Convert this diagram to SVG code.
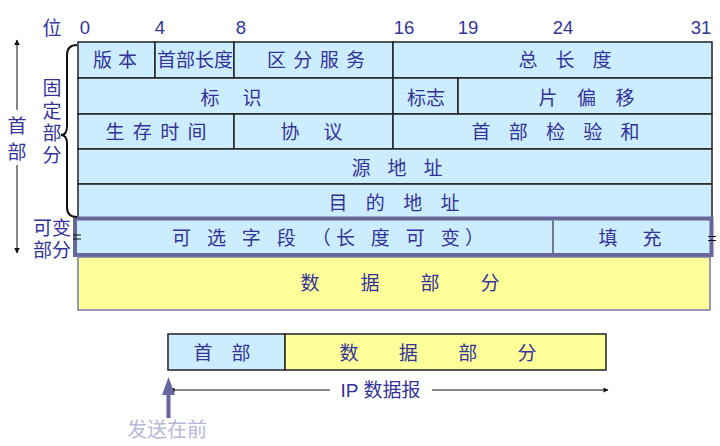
<svg xmlns="http://www.w3.org/2000/svg" width="720" height="446" viewBox="0 0 720 446">
<style>
.t{font-family:"Liberation Sans","Noto Sans CJK SC",sans-serif;font-size:19px;fill:#333399;text-anchor:middle;dominant-baseline:central}
.num{font-family:"Liberation Sans",Arial,sans-serif;font-size:18.5px;fill:#333399;text-anchor:middle}
.c{fill:#ccecff;stroke:#222;stroke-width:1.5}
.y{fill:#ffff99;stroke:#7777aa;stroke-width:1.5}
.ln{stroke:#111;stroke-width:2;fill:none}
.thin{stroke:#111;stroke-width:1;fill:none}
</style>
<defs>
<marker id="ah" viewBox="0 0 10 10" refX="9" refY="5" markerWidth="6" markerHeight="10" markerUnits="userSpaceOnUse" orient="auto"><path d="M0,0 L10,5 L0,10 z" fill="#111"/></marker>
<marker id="ahs" viewBox="0 0 10 10" refX="9" refY="5" markerWidth="7" markerHeight="5" markerUnits="userSpaceOnUse" orient="auto"><path d="M0,0 L10,5 L0,10 z" fill="#111"/></marker>
</defs>

<g id="bits">
<text x="52" y="28" class="t">位</text>
<text x="85" y="34" class="num">0</text>
<text x="160" y="34" class="num">4</text>
<text x="241" y="34" class="num">8</text>
<text x="404" y="34" class="num">16</text>
<text x="468" y="34" class="num">19</text>
<text x="563" y="34" class="num">24</text>
<text x="701" y="34" class="num">31</text>
</g>

<g id="f-version"><rect class="c" x="78" y="42" width="77" height="36"/><text class="t" x="115" y="60" textLength="44" lengthAdjust="spacing">版 本</text></g>
<g id="f-ihl"><rect class="c" x="155" y="42" width="79" height="36"/><text class="t" x="195" y="60" textLength="76" lengthAdjust="spacing">首部长度</text></g>
<g id="f-ds"><rect class="c" x="234" y="42" width="159" height="36"/><text class="t" x="316" y="60" textLength="98" lengthAdjust="spacing">区 分 服 务</text></g>
<g id="f-total"><rect class="c" x="393" y="42" width="319" height="36"/><text class="t" x="565" y="60" textLength="93" lengthAdjust="spacing">总 长 度</text></g>

<g id="f-id"><rect class="c" x="78" y="78" width="315" height="36"/><text class="t" x="231" y="98" textLength="61" lengthAdjust="spacing">标 识</text></g>
<g id="f-flags"><rect class="c" x="393" y="78" width="65" height="36"/><text class="t" x="426" y="98" textLength="38" lengthAdjust="spacing">标志</text></g>
<g id="f-offset"><rect class="c" x="458" y="78" width="254" height="36"/><text class="t" x="586.5" y="98" textLength="96" lengthAdjust="spacing">片 偏 移</text></g>

<g id="f-ttl"><rect class="c" x="78" y="114" width="156" height="35"/><text class="t" x="156" y="132" textLength="101" lengthAdjust="spacing">生 存 时 间</text></g>
<g id="f-proto"><rect class="c" x="234" y="114" width="159" height="35"/><text class="t" x="311.5" y="132" textLength="62" lengthAdjust="spacing">协 议</text></g>
<g id="f-checksum"><rect class="c" x="393" y="114" width="319" height="35"/><text class="t" x="555.5" y="132" textLength="168" lengthAdjust="spacing">首 部 检 验 和</text></g>

<g id="f-src"><rect class="c" x="78" y="149" width="634" height="35"/><text class="t" x="397" y="168" textLength="91" lengthAdjust="spacing">源 地 址</text></g>
<g id="f-dst"><rect class="c" x="78" y="184" width="634" height="35"/><text class="t" x="394" y="203" textLength="131" lengthAdjust="spacing">目 的 地 址</text></g>

<g id="f-options">
<rect x="75" y="218.5" width="636.5" height="36.5" fill="#ccecff" stroke="#666699" stroke-width="4"/>
<line x1="553" y1="220.5" x2="553" y2="253" class="thin" stroke-width="1.5"/>
<text class="t" x="328" y="238" textLength="312" lengthAdjust="spacing">可 选 字 段 （长 度 可 变）</text>
<text class="t" x="630" y="238" textLength="63" lengthAdjust="spacing">填 充</text>
<line x1="73" y1="235" x2="81" y2="235" class="thin" stroke-width="1.5"/>
<line x1="73" y1="239" x2="81" y2="239" class="thin" stroke-width="1.5"/>
<line x1="708" y1="236.5" x2="716" y2="236.5" class="thin" stroke-width="1.5"/>
<line x1="708" y1="240.5" x2="716" y2="240.5" class="thin" stroke-width="1.5"/>
</g>

<g id="f-data"><rect class="y" x="78" y="257" width="632" height="53"/><text class="t" x="400" y="283" textLength="199" lengthAdjust="spacing">数 据 部 分</text></g>

<g id="labels">
<text class="t" x="52" y="88">固</text>
<text class="t" x="52" y="111">定</text>
<text class="t" x="52" y="133">部</text>
<text class="t" x="52" y="155">分</text>
<text class="t" x="52" y="228">可变</text>
<text class="t" x="52" y="250">部分</text>
<text class="t" x="17" y="126">首</text>
<text class="t" x="17" y="152">部</text>
</g>

<g id="connectors">
<path class="ln" d="M77,45 Q67,45 67,55 L67,126 Q67,135 61,135 Q67,135 67,144 L67,207 Q67,217 77,217"/>
<line x1="17" y1="110" x2="17" y2="40" class="thin" stroke-width="2" marker-end="url(#ah)"/>
<line x1="17" y1="165" x2="17" y2="253" class="thin" stroke-width="2" marker-end="url(#ah)"/>
<line x1="330" y1="390" x2="170" y2="390" class="thin" marker-end="url(#ahs)"/>
<line x1="432" y1="390" x2="608" y2="390" class="thin" marker-end="url(#ahs)"/>
<path d="M166.5,418 L166.5,395 L162,395 L168.5,377 L175,395 L170.5,395 L170.5,418 z" fill="#6666a0"/>
</g>

<g id="datagram">
<g id="d-header"><rect class="c" x="168" y="334" width="117" height="36"/><text class="t" x="222" y="353" textLength="57" lengthAdjust="spacing">首 部</text></g>
<g id="d-data"><rect x="285" y="334" width="321" height="36" fill="#ffff99" stroke="#222" stroke-width="1.5"/><text class="t" x="438" y="353" textLength="197" lengthAdjust="spacing">数 据 部 分</text></g>
<text class="t" x="380.5" y="390">IP 数据报</text>
<text class="t" x="167" y="430" style="fill:#b8b8d8;font-size:20px">发送在前</text>
</g>
</svg>
